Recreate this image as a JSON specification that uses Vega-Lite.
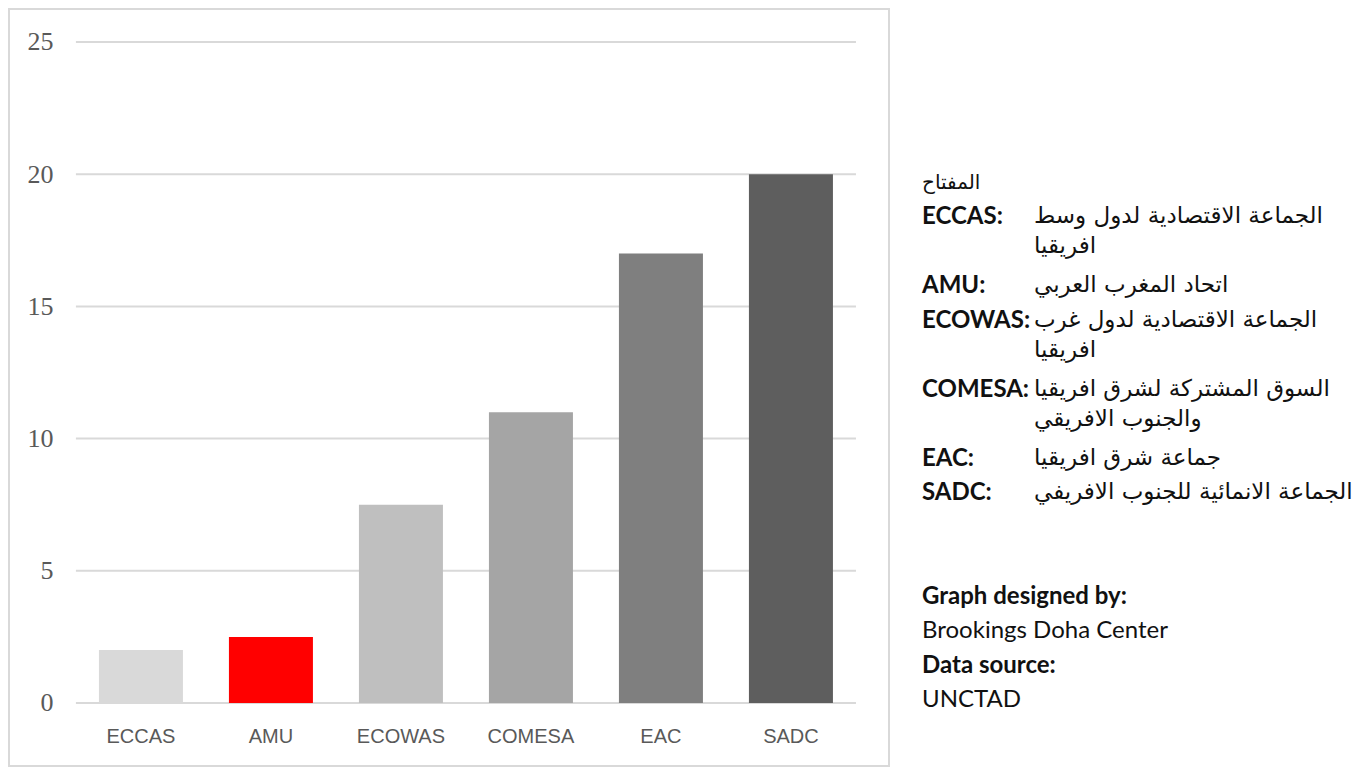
{
  "$schema": "https://vega.github.io/schema/vega-lite/v6.json",
  "padding": {"left": 8, "top": 8, "right": 0, "bottom": 0},
  "background": "white",
  "spacing": 32,
  "datasets": {
    "bars": [
      {"region": "ECCAS", "value": 2},
      {"region": "AMU", "value": 2.5},
      {"region": "ECOWAS", "value": 7.5},
      {"region": "COMESA", "value": 11},
      {"region": "EAC", "value": 17},
      {"region": "SADC", "value": 20}
    ],
    "gridValues": [
      {"value": 0}, {"value": 5}, {"value": 10}, {"value": 15}, {"value": 20}, {"value": 25}
    ],
    "key": [
      {"line": 0, "column": 0, "kind": "heading", "text": "المفتاح"},
      {"line": 1, "column": 0, "kind": "abbreviation", "text": "ECCAS:"},
      {"line": 1, "column": 1, "kind": "description", "text": ["الجماعة الاقتصادية لدول وسط", "افريقيا"]},
      {"line": 3, "column": 0, "kind": "abbreviation", "text": "AMU:"},
      {"line": 3, "column": 1, "kind": "description", "text": "اتحاد المغرب العربي"},
      {"line": 4, "column": 0, "kind": "abbreviation", "text": "ECOWAS:"},
      {"line": 4, "column": 1, "kind": "description", "text": ["الجماعة الاقتصادية لدول غرب", "افريقيا"]},
      {"line": 6, "column": 0, "kind": "abbreviation", "text": "COMESA:"},
      {"line": 6, "column": 1, "kind": "description", "text": ["السوق المشتركة لشرق افريقيا", "والجنوب الافريقي"]},
      {"line": 8, "column": 0, "kind": "abbreviation", "text": "EAC:"},
      {"line": 8, "column": 1, "kind": "description", "text": "جماعة شرق افريقيا"},
      {"line": 9, "column": 0, "kind": "abbreviation", "text": "SADC:"},
      {"line": 9, "column": 1, "kind": "description", "text": "الجماعة الانمائية للجنوب الافريفي"},
      {"line": 12, "column": 0, "kind": "creditLabel", "text": "Graph designed by:"},
      {"line": 13, "column": 0, "kind": "creditValue", "text": "Brookings Doha Center"},
      {"line": 14, "column": 0, "kind": "creditLabel", "text": "Data source:"},
      {"line": 15, "column": 0, "kind": "creditValue", "text": "UNCTAD"}
    ]
  },
  "hconcat": [
    {
      "width": 880,
      "height": 757,
      "view": {"stroke": "#d9d9d9", "strokeWidth": 2},
      "layer": [
        {
          "data": {"name": "gridValues"},
          "mark": {"type": "rule", "color": "#d9d9d9", "strokeWidth": 2},
          "encoding": {
            "y": {"field": "value", "type": "quantitative"},
            "x": {"datum": "ECCAS", "type": "nominal", "bandPosition": -0.274},
            "x2": {"datum": "SADC", "bandPosition": 1.274}
          }
        },
        {
          "data": {"name": "bars"},
          "mark": {"type": "bar"},
          "encoding": {
            "x": {
              "field": "region",
              "type": "nominal",
              "sort": null,
              "bandPosition": 0.5,
              "scale": {
                "domain": ["ECCAS", "AMU", "ECOWAS", "COMESA", "EAC", "SADC"],
                "paddingInner": 0.3538,
                "paddingOuter": 0.5615,
                "align": 0.616
              },
              "axis": {
                "title": null,
                "orient": "bottom",
                "offset": -41,
                "domain": false,
                "ticks": false,
                "tickSize": 0,
                "bandPosition": 0.5,
                "labelPadding": 1,
                "labelAngle": 0,
                "labelAlign": "center",
                "labelBaseline": "top",
                "labelFont": "Liberation Sans",
                "labelFontSize": 20,
                "labelColor": "#595959"
              }
            },
            "y": {
              "field": "value",
              "type": "quantitative",
              "scale": {"domain": [-2.383, 26.248], "nice": false, "zero": false},
              "axis": {
                "title": null,
                "values": [0, 5, 10, 15, 20, 25],
                "grid": false,
                "domain": false,
                "ticks": false,
                "tickSize": 0,
                "offset": -44,
                "labelPadding": 0,
                "labelFont": "Liberation Serif",
                "labelFontSize": 26,
                "labelColor": "#595959"
              }
            },
            "y2": {"datum": 0},
            "color": {
              "field": "region",
              "type": "nominal",
              "scale": {
                "domain": ["ECCAS", "AMU", "ECOWAS", "COMESA", "EAC", "SADC"],
                "range": ["#d9d9d9", "#ff0000", "#bfbfbf", "#a5a5a5", "#7f7f7f", "#5e5e5e"]
              },
              "legend": null
            }
          }
        }
      ]
    },
    {
      "width": 440,
      "height": 757,
      "view": {"stroke": null},
      "data": {"name": "key"},
      "encoding": {
        "y": {
          "field": "line",
          "type": "quantitative",
          "scale": {"domain": [-4.69, 17.25], "nice": false, "zero": false, "reverse": true},
          "axis": null
        },
        "x": {
          "field": "column",
          "type": "quantitative",
          "scale": {"domain": [0, 3.93], "nice": false, "zero": false},
          "axis": null
        },
        "text": {"field": "text"}
      },
      "layer": [
        {
          "transform": [{"filter": "datum.kind == 'abbreviation' || datum.kind == 'creditLabel'"}],
          "mark": {"type": "text", "align": "left", "baseline": "top", "font": "Lato", "fontWeight": "bold", "fontSize": 24, "color": "#111111"}
        },
        {
          "transform": [{"filter": "datum.kind == 'creditValue'"}],
          "mark": {"type": "text", "align": "left", "baseline": "top", "font": "Lato", "fontSize": 24, "color": "#111111"}
        },
        {
          "transform": [{"filter": "datum.kind == 'heading'"}],
          "mark": {"type": "text", "align": "left", "baseline": "top", "font": "DejaVu Sans", "fontSize": 20, "dy": 2, "color": "#111111"}
        },
        {
          "transform": [{"filter": "datum.kind == 'description'"}],
          "mark": {"type": "text", "align": "left", "baseline": "top", "font": "DejaVu Sans", "fontSize": 23, "lineHeight": 30, "color": "#111111"}
        }
      ]
    }
  ]
}
